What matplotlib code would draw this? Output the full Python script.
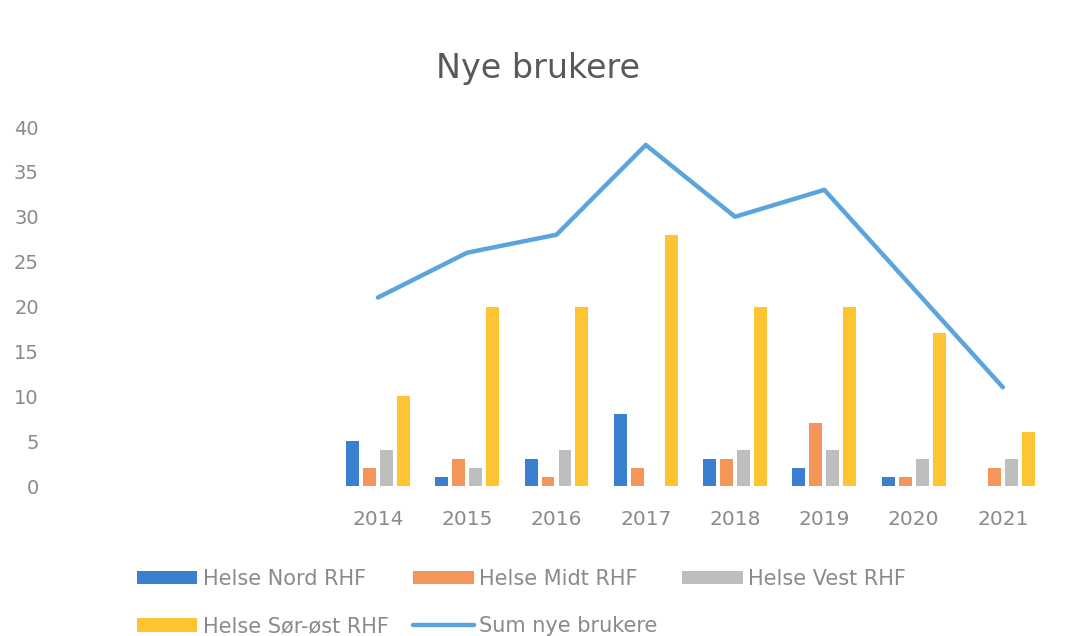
import matplotlib
matplotlib.use("Agg")
import matplotlib.pyplot as plt
import numpy as np

years = ["2014", "2015", "2016", "2017", "2018", "2019", "2020", "2021"]
nord = [5, 1, 3, 8, 3, 2, 1, 0]
midt = [2, 3, 1, 2, 3, 7, 1, 2]
vest = [4, 2, 4, 0, 4, 4, 3, 3]
sorost = [10, 20, 20, 28, 20, 20, 17, 6]
sum_nye = [21, 26, 28, 38, 30, 33, 22, 11]

series = [("Helse Nord RHF", nord, "#3B7FD1"),
          ("Helse Midt RHF", midt, "#F4955A"),
          ("Helse Vest RHF", vest, "#BEBEBE"),
          ("Helse Sør-øst RHF", sorost, "#FEC432")]

fig = plt.figure(figsize=(10.7, 6.36), dpi=100)
ax = fig.add_axes([0.057, 0.2358, 0.922, 0.5645])

x = np.arange(len(years))
step = 0.19
width = 0.145
handles = []
for i, (name, vals, col) in enumerate(series):
    h = ax.bar(x + (i - 1.5) * step, vals, width=width, color=col, label=name)
    handles.append(h)
ln, = ax.plot(x, sum_nye, color="#5BA5DC", lw=3.2, label="Sum nye brukere",
              solid_capstyle="round")

ax.set_xlim(-3.55, 7.5)
ax.set_ylim(0, 40)
ax.set_yticks(range(0, 41, 5))
ax.set_xticks(x)
ax.set_xticklabels(years)
for s in ax.spines.values():
    s.set_visible(False)
ax.tick_params(axis="both", length=0, colors="#8A8A8A", labelsize=14)
ax.tick_params(axis="x", pad=17, labelsize=14.5)
ax.tick_params(axis="y", pad=16)

fig.text(0.503, 0.893, "Nye brukere", ha="center", va="center",
         fontsize=24, color="#595959")

leg = fig.legend(handles=handles[:1] + handles[3:] + [handles[1], ln, handles[2]],
                 labels=["Helse Nord RHF", "Helse Sør-øst RHF", "Helse Midt RHF",
                         "Sum nye brukere", "Helse Vest RHF"],
                 ncol=3, loc="upper left", bbox_to_anchor=(0.128, 0.105),
                 frameon=False, fontsize=15, handlelength=2.9, handleheight=0.6,
                 handletextpad=0.25, columnspacing=1.2, labelspacing=1.3,
                 borderaxespad=0, borderpad=0)
for t in leg.get_texts():
    t.set_color("#8A8A8A")

fig.savefig("out.png", dpi=100)
